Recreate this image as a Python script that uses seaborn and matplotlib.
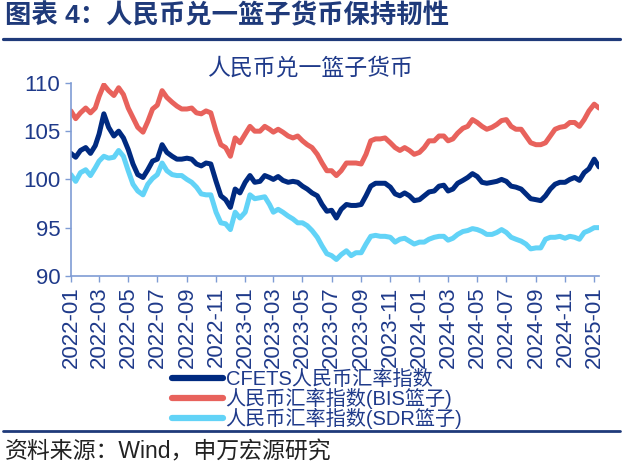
import pandas as pd
import matplotlib
matplotlib.use('Agg')
import matplotlib.pyplot as plt
import matplotlib.dates as mdates
import seaborn as sns

# 数据 (每月 1/11/21 日, 从图上读取)
cfets = [102.7, 102.3, 103.0, 103.3, 102.7, 103.5, 104.7, 106.8, 105.4, 104.5,
         105.0, 104.3, 103.1, 101.6, 100.5, 100.2, 101.0, 101.9, 102.1, 103.6,
         102.8, 102.4, 102.1, 102.1, 102.2, 102.1, 101.6, 101.4, 101.7, 101.6,
         99.8, 98.3, 97.9, 97.1, 99.0, 98.6, 99.7, 100.4, 99.7, 99.8,
         100.4, 100.2, 100.0, 100.3, 99.9, 99.7, 99.8, 99.7, 99.3, 99.0,
         98.6, 98.3, 97.4, 96.7, 96.8, 96.0, 96.9, 97.4, 97.3, 97.3,
         97.4, 98.3, 99.3, 99.6, 99.6, 99.6, 99.2, 98.5, 98.3, 98.6,
         98.3, 97.8, 97.9, 98.3, 98.7, 98.8, 99.3, 99.4, 98.8, 99.0,
         99.6, 99.9, 100.2, 100.6, 100.3, 99.7, 99.6, 99.7, 99.8, 100.0,
         99.8, 99.3, 99.2, 99.0, 98.5, 98.0, 97.9, 97.8, 98.3, 99.0,
         99.5, 99.7, 99.7, 100.0, 100.2, 99.9, 100.7, 101.1, 102.1, 101.3]
bis = [107.1, 106.3, 106.9, 107.4, 106.9, 107.4, 108.6, 109.8, 109.2, 108.7,
       109.5, 108.8, 107.4, 106.4, 105.4, 104.9, 106.0, 107.3, 107.7, 109.2,
       108.5, 108.0, 107.6, 107.3, 107.3, 107.4, 106.9, 106.8, 107.1, 106.9,
       105.0, 103.6, 103.3, 102.4, 104.3, 103.8, 104.7, 105.5, 105.0, 105.0,
       105.5, 105.2, 104.9, 105.2, 104.9, 104.5, 104.3, 104.5, 104.0, 103.6,
       103.3, 102.6, 101.7, 100.9, 100.9, 100.4, 100.9, 101.7, 101.7, 101.7,
       101.6, 102.6, 104.0, 104.2, 104.2, 104.3, 103.8, 103.3, 103.0, 103.3,
       103.0, 102.6, 102.8, 103.3, 104.0, 104.0, 104.5, 104.5, 104.0, 104.2,
       104.8, 105.3, 105.5, 106.2, 105.9, 105.5, 105.2, 105.4, 105.7, 106.1,
       106.2, 105.5, 105.2, 105.2, 104.5, 103.8, 103.6, 103.6, 103.8, 104.5,
       105.2, 105.4, 105.5, 105.9, 105.9, 105.5, 106.2, 107.1, 107.8, 107.4]
sdr = [100.5, 99.8, 100.7, 101.0, 100.4, 101.2, 101.9, 102.4, 102.2, 102.3,
       103.0, 102.4, 100.9, 99.5, 98.8, 98.4, 99.5, 100.1, 100.5, 101.7,
       100.9, 100.5, 100.4, 100.4, 100.0, 99.7, 99.2, 98.5, 98.4, 98.4,
       96.6, 95.5, 95.4, 94.8, 96.6, 96.0, 96.6, 98.4, 98.0, 98.1,
       98.2, 97.4, 96.6, 96.9, 96.6, 96.2, 95.9, 95.5, 95.5, 95.2,
       94.7, 94.0, 93.1, 92.3, 92.1, 91.7, 92.2, 92.6, 92.1, 92.4,
       92.4, 93.3, 94.1, 94.2, 94.1, 94.1, 94.0, 93.5, 93.8, 93.9,
       93.6, 93.3, 93.5, 93.5, 93.8, 94.0, 94.1, 94.1, 93.7, 93.9,
       94.3, 94.6, 94.7, 94.9, 94.8, 94.6, 94.3, 94.3, 94.5, 94.8,
       94.5, 94.0, 93.8, 93.6, 93.3, 92.8, 92.9, 92.9, 93.8, 94.0,
       94.0, 94.1, 93.9, 94.1, 94.0, 93.8, 94.5, 94.7, 95.0, 95.0]

dates = [pd.Timestamp(2022, 1, 1) + pd.DateOffset(months=k // 3, days=10 * (k % 3))
         for k in range(len(cfets))]

labels = ['CFETS人民币汇率指数', '人民币汇率指数(BIS篮子)', '人民币汇率指数(SDR篮子)']
colors = ['#002A80', '#E8625C', '#62D3F7']

df = pd.DataFrame({'date': dates, labels[0]: cfets, labels[1]: bis, labels[2]: sdr})
df_long = df.melt(id_vars='date', var_name='series', value_name='value')

sns.set_style('white')
plt.rcParams['font.family'] = ['Liberation Sans', 'Noto Sans CJK SC', 'DejaVu Sans']
plt.rcParams['axes.unicode_minus'] = False

navy = '#1F3A8A'
fig = plt.figure(figsize=(6.22, 4.66), dpi=100)
ax = fig.add_axes([0.114, 0.408, 0.849, 0.414])

sns.lineplot(data=df_long, x='date', y='value', hue='series', hue_order=labels,
             palette=colors, linewidth=3.6, ax=ax, legend=True)

ax.set_ylim(90, 110)
ax.set_yticks([90, 95, 100, 105, 110])
ax.set_xlim(dates[0], dates[-1])
ticks = pd.date_range('2022-01-01', '2025-01-01', freq='2MS')
ax.set_xticks(ticks)
ax.xaxis.set_major_formatter(mdates.DateFormatter('%Y-%m'))
ax.set_xlabel('')
ax.set_ylabel('')
ax.tick_params(axis='x', labelrotation=90)
ax.tick_params(axis='both', labelsize=16, labelcolor=navy, color='#7F9CD4',
               length=4, width=1, direction='out', left=True, bottom=True)
for s in ['top', 'right']:
    ax.spines[s].set_visible(False)
for s in ['left', 'bottom']:
    ax.spines[s].set_color('#7F9CD4')
    ax.spines[s].set_linewidth(1.2)

# 图内标题 (整张图居中)
fig.text(0.499, 0.855, '人民币兑一篮子货币', fontsize=16.5, color=navy,
         ha='center', va='center')

handles, labs = ax.get_legend_handles_labels()
ax.get_legend().remove()
leg = fig.legend(handles, labs, loc='upper center', bbox_to_anchor=(0.51, 0.228),
                 frameon=False, fontsize=14.5, labelspacing=-0.05, handlelength=2.5,
                 handletextpad=0.15, borderpad=0)
for t in leg.get_texts():
    t.set_color(navy)
for h in leg.get_lines():
    h.set_linewidth(4.5)

# 标题 / 分隔线 / 来源
fig.text(0.008, 0.966, '图表 4：人民币兑一篮子货币保持韧性', fontsize=19, fontweight='bold',
         color='#1F3A7A', va='center', ha='left')
fig.add_artist(plt.Line2D([0.005, 0.997], [0.916, 0.916], color='#1F3A7A', linewidth=2.3))
fig.add_artist(plt.Line2D([0.005, 0.997], [0.075, 0.075], color='#1F3A7A', linewidth=2.0))
fig.text(0.008, 0.030, '资料来源：Wind，申万宏源研究', fontsize=16.5, color='#222222',
         va='center', ha='left')

fig.savefig('out.png', dpi=100)
